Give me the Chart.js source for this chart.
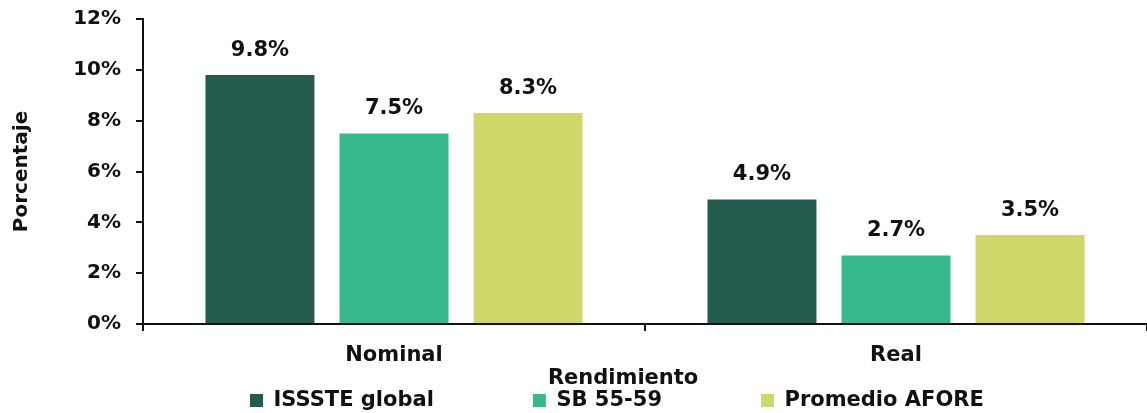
<!DOCTYPE html>
<html>
<head>
<meta charset="utf-8">
<script src="https://cdn.jsdelivr.net/npm/chart.js@4/dist/chart.umd.min.js"></script>
<style>
  html, body { margin: 0; padding: 0; background: #ffffff; }
  #wrap { width: 1147px; height: 413px; }
</style>
</head>
<body>
<div id="wrap"><canvas id="c"></canvas></div>
<script>
// Rendimiento por tipo
const categories = ['Nominal', 'Real'];
const seriesNames = ['ISSSTE global', 'SB 55-59', 'Promedio AFORE'];
const issste = [9.8, 4.9];
const sb5559 = [7.5, 2.7];
const promedioAfore = [8.3, 3.5];
const yTicks = [0, 2, 4, 6, 8, 10, 12];

const colors = ['#245B4F', '#37B98C', '#D0D76A'];
const FONT = "'DejaVu Sans', 'Open Sans', sans-serif";
const GAP = '\u00A0'.repeat(13);

// Value labels above each bar
const valueLabels = {
  id: 'valueLabels',
  afterDatasetsDraw(chart) {
    const ctx = chart.ctx;
    ctx.save();
    ctx.font = `bold 21px ${FONT}`;
    ctx.fillStyle = '#111111';
    ctx.textAlign = 'center';
    ctx.textBaseline = 'alphabetic';
    chart.data.datasets.forEach((ds, i) => {
      chart.getDatasetMeta(i).data.forEach((bar, j) => {
        ctx.fillText(ds.data[j].toFixed(1) + '%', bar.x, bar.y - 19);
      });
    });
    ctx.restore();
  }
};

// Place the legend row under the plotting region
const legendPlace = {
  id: 'legendPlace',
  afterLayout(chart) {
    const lg = chart.legend;
    if (lg) {
      lg.left = 246;
      lg.top += 8;
      lg.bottom += 8;
    }
  }
};

new Chart(document.getElementById('c'), {
  type: 'bar',
  data: {
    labels: categories,
    datasets: [
      { label: seriesNames[0], data: issste, backgroundColor: colors[0] },
      { label: seriesNames[1], data: sb5559, backgroundColor: colors[1] },
      { label: seriesNames[2], data: promedioAfore, backgroundColor: colors[2] }
    ]
  },
  options: {
    responsive: true,
    maintainAspectRatio: false,
    animation: false,
    datasets: { bar: { categoryPercentage: 0.801, barPercentage: 0.813 } },
    layout: { padding: { top: 19, right: 0, left: 0, bottom: 0 } },
    plugins: {
      legend: {
        position: 'bottom',
        align: 'start',
        labels: {
          boxWidth: 13, boxHeight: 13, padding: 4,
          color: '#111111',
          font: { family: FONT, size: 21, weight: 'bold' },
          generateLabels(chart) {
            return chart.data.datasets.map((ds, i) => ({
              text: ds.label + (i < chart.data.datasets.length - 1 ? GAP : ''),
              fillStyle: ds.backgroundColor,
              strokeStyle: ds.backgroundColor,
              lineWidth: 0,
              hidden: false,
              datasetIndex: i,
              fontColor: '#111111'
            }));
          }
        }
      },
      tooltip: { enabled: false }
    },
    scales: {
      x: {
        grid: { display: true, offset: true, drawOnChartArea: false, drawTicks: true, tickLength: 7, color: '#111111', lineWidth: 2 },
        border: { display: true, color: '#111111', width: 2 },
        ticks: { color: '#111111', padding: 12, font: { family: FONT, size: 21, weight: 'bold' } },
        title: {
          display: true, text: 'Rendimiento' + '\u00A0'.repeat(6), color: '#111111',
          padding: { top: 0, bottom: -13 },
          font: { family: FONT, size: 21, weight: 'bold' }
        },
        afterFit(s) { s.height = 54; }
      },
      y: {
        min: 0, max: 12,
        afterBuildTicks(s) { s.ticks = yTicks.map(v => ({ value: v })); },
        grid: { display: true, drawOnChartArea: false, drawTicks: true, tickLength: 7, color: '#111111', lineWidth: 2 },
        border: { display: true, color: '#111111', width: 2 },
        ticks: {
          color: '#111111', padding: 15,
          font: { family: FONT, size: 20, weight: 'bold' },
          callback: v => v + '%'
        },
        title: {
          display: true, text: 'Porcentaje', color: '#111111',
          padding: { top: 10, bottom: 0 },
          font: { family: FONT, size: 20, weight: 'bold' }
        },
        afterFit(s) {
          s.width = 143;
          s.paddingTop = 0;
          s.paddingBottom = 0;
        }
      }
    }
  },
  plugins: [valueLabels, legendPlace]
});
</script>
</body>
</html>
